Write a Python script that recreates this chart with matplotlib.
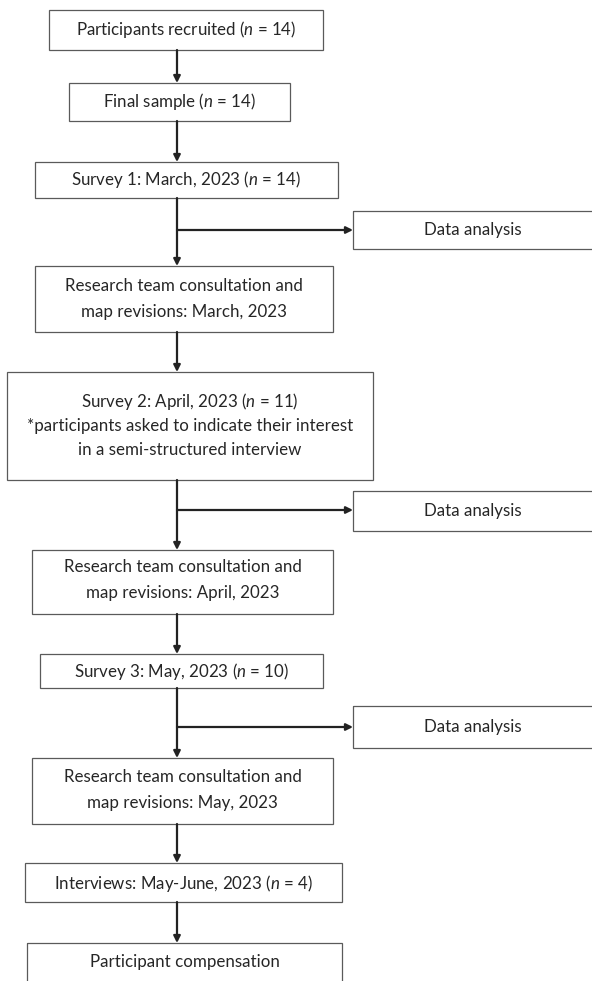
import matplotlib
matplotlib.use("Agg")
import matplotlib.pyplot as plt
from matplotlib.patches import Rectangle

plt.rcParams['font.family'] = ['Lato', 'DejaVu Sans']
plt.rcParams['mathtext.fontset'] = 'custom'
plt.rcParams['mathtext.it'] = 'Lato:italic'
plt.rcParams['mathtext.rm'] = 'Lato'

# flowchart steps (one list of text lines per box)
steps = [
    ["Participants recruited ($n$ = 14)"],
    ["Final sample ($n$ = 14)"],
    ["Survey 1: March, 2023 ($n$ = 14)"],
    ["Research team consultation and", "map revisions: March, 2023"],
    ["Survey 2: April, 2023 ($n$ = 11)",
     "*participants asked to indicate their interest",
     "in a semi-structured interview"],
    ["Research team consultation and", "map revisions: April, 2023"],
    ["Survey 3: May, 2023 ($n$ = 10)"],
    ["Research team consultation and", "map revisions: May, 2023"],
    ["Interviews: May-June, 2023 ($n$ = 4)"],
    ["Participant compensation"],
]
side_label = "Data analysis"
branch_after = [2, 4, 6]   # survey steps that feed data analysis

# layout in pixels: x0, x1, y0, y1 and text line positions
boxes = [
    (49, 323, 10, 50), (69, 290, 83, 121), (35, 338, 162, 198),
    (35, 333, 266, 332), (7, 373, 372, 480), (32, 333, 550, 614),
    (40, 323, 654, 688), (32, 333, 758, 824), (25, 342, 863, 902),
    (27, 342, 943, 1000),
]
line_y = [[30], [102], [180], [286, 312], [402, 426, 450], [567, 593],
          [672], [777, 803], [883], [962]]
side_boxes = [(353, 594, 211, 249), (353, 594, 491, 531), (353, 594, 706, 748)]
branch_y = [230, 510, 727]
xc = 177

edge = '#5a5a5a'
ink = '#222222'
txt = '#262626'
fs = 12.2

fig = plt.figure(figsize=(5.92, 9.81), dpi=100)
ax = fig.add_axes([0, 0, 1, 1])
ax.set_xlim(0, 592)
ax.set_ylim(981, 0)
ax.axis('off')


def draw_box(b):
    x0, x1, y0, y1 = b
    ax.add_patch(Rectangle((x0, y0), x1 - x0, y1 - y0, fill=False,
                           ec=edge, lw=0.9))


def arrow(p0, p1):
    ax.annotate("", xy=p1, xytext=p0,
                arrowprops=dict(arrowstyle='-|>', color=ink, lw=1.6,
                                mutation_scale=10, shrinkA=0, shrinkB=0))


for i, (lines, b) in enumerate(zip(steps, boxes)):
    draw_box(b)
    cx = (b[0] + b[1]) / 2
    for s, y in zip(lines, line_y[i]):
        ax.text(cx, y, s, ha='center', va='center', fontsize=fs, color=txt)
    if i + 1 < len(boxes):
        arrow((xc, b[3]), (xc, boxes[i + 1][2]))

for k, i in enumerate(branch_after):
    sb = side_boxes[k]
    draw_box(sb)
    ax.text((sb[0] + 593) / 2, (sb[2] + sb[3]) / 2, side_label,
            ha='center', va='center', fontsize=fs, color=txt)
    arrow((xc, branch_y[k]), (sb[0], branch_y[k]))

fig.savefig("out.png", dpi=100, facecolor='white')
